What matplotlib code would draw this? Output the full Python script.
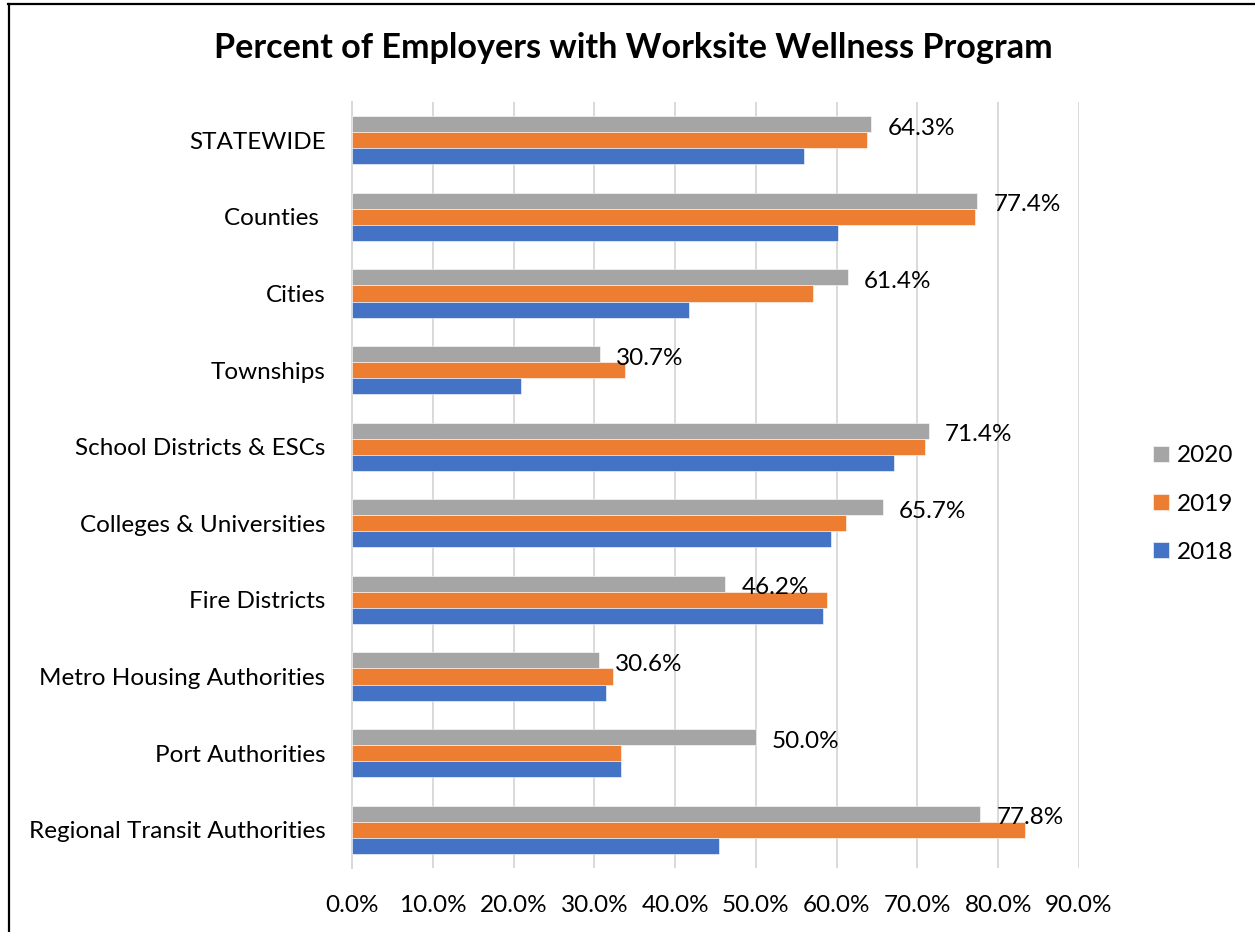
import matplotlib
matplotlib.use("Agg")
import matplotlib.pyplot as plt
from matplotlib.lines import Line2D
from matplotlib.ticker import FuncFormatter, MultipleLocator

categories = ["STATEWIDE", "Counties ", "Cities", "Townships", "School Districts & ESCs",
              "Colleges & Universities", "Fire Districts", "Metro Housing Authorities",
              "Port Authorities", "Regional Transit Authorities"]
v2020 = [64.3, 77.4, 61.4, 30.7, 71.4, 65.7, 46.2, 30.6, 50.0, 77.8]
v2019 = [63.8, 77.1, 57.1, 33.8, 70.9, 61.1, 58.8, 32.3, 33.3, 83.3]
v2018 = [55.9, 60.2, 41.7, 20.9, 67.1, 59.3, 58.3, 31.4, 33.3, 45.4]
labels2020 = ["64.3%", "77.4%", "61.4%", "30.7%", "71.4%", "65.7%", "46.2%", "30.6%", "50.0%", "77.8%"]

FONT = "Lato"
plt.rcParams['font.family'] = [FONT, 'DejaVu Sans']
FS = 17.5

W, H = 1255, 932
fig = plt.figure(figsize=(W / 100, H / 100), dpi=100)
ax = fig.add_axes([352 / W, 64 / H, (1079 - 352) / W, (868 - 102) / H])

bh = 0.209
ys = list(range(len(categories)))
c2020, c2019, c2018 = "#A5A5A5", "#ED7D31", "#4472C4"
ax.barh([y - bh for y in ys], v2020, height=bh, color=c2020, edgecolor="white", linewidth=0.4, label="2020", zorder=3)
ax.barh(ys, v2019, height=bh, color=c2019, edgecolor="white", linewidth=0.4, label="2019", zorder=3)
ax.barh([y + bh for y in ys], v2018, height=bh, color=c2018, edgecolor="white", linewidth=0.4, label="2018", zorder=3)

for y, v, t in zip(ys, v2020, labels2020):
    ax.text(v + 2.0, y - bh * 0.75, t, va="center", ha="left", fontsize=FS, color="#000000", zorder=5)

ax.set_xlim(0, 90)
ax.set_ylim(len(categories) - 0.5, -0.5)
ax.xaxis.set_major_locator(MultipleLocator(10))
ax.xaxis.set_major_formatter(FuncFormatter(lambda x, p: f"{x:.1f}%"))
ax.set_yticks(ys)
ax.set_yticklabels(categories)
ax.tick_params(axis="x", length=0, pad=19.5, labelsize=FS)
ax.tick_params(axis="y", length=0, pad=19, labelsize=FS)
ax.grid(axis="x", color="#D9D9D9", linewidth=1.4, zorder=0)
ax.set_axisbelow(True)
for s in ["top", "right", "bottom"]:
    ax.spines[s].set_visible(False)
ax.spines["left"].set_color("#D9D9D9")
ax.spines["left"].set_linewidth(1.4)

fig.text(633 / W, 1 - 48 / H, "Percent of Employers with Worksite Wellness Program",
         ha="center", va="center", fontsize=24.6, fontweight="bold")

handles, labs = ax.get_legend_handles_labels()
leg = fig.legend(handles, labs, loc="center left", bbox_to_anchor=(1131 / W, 1 - 504 / H),
                 frameon=False, fontsize=FS, handlelength=0.65, handleheight=0.65,
                 handletextpad=0.35, labelspacing=1.12)

fig.add_artist(Line2D([8.5 / W, 8.5 / W], [0, 1 - 4 / H], transform=fig.transFigure, color="black", linewidth=1.6))
fig.add_artist(Line2D([8 / W, 1], [1 - 4 / H, 1 - 4 / H], transform=fig.transFigure, color="black", linewidth=1.6))

fig.savefig("out.png", dpi=100)
